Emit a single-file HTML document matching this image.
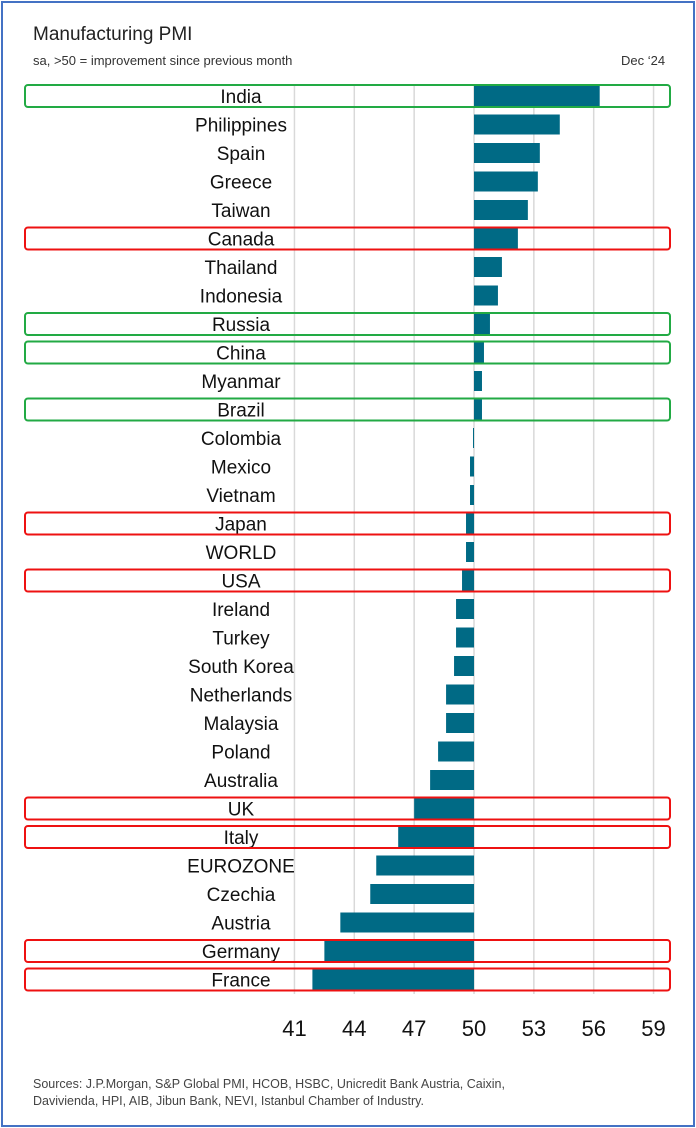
<!DOCTYPE html>
<html><head><meta charset="utf-8"><style>
body{margin:0;width:696px;height:1128px;background:#fff;overflow:hidden;font-family:"Liberation Sans",sans-serif}
#frame{position:absolute;left:1px;top:1px;width:690px;height:1122px;border:2px solid #4472C4}
.t{position:absolute;color:#333}
</style></head><body>
<div id="frame"></div>
<div class="t" style="left:33px;top:24px;font-size:19px;color:#222">Manufacturing PMI</div>
<div class="t" style="left:33px;top:53px;font-size:13px">sa, &gt;50 = improvement since previous month</div>
<div class="t" style="left:621px;top:53px;font-size:13px">Dec ‘24</div>
<svg id="c" width="696" height="1128" style="position:absolute;left:0;top:0"></svg>
<div class="t" style="left:33px;top:1076px;font-size:12.5px;line-height:17px;color:#444">Sources: J.P.Morgan, S&amp;P Global PMI, HCOB, HSBC, Unicredit Bank Austria, Caixin,<br>Davivienda, HPI, AIB, Jibun Bank, NEVI, Istanbul Chamber of Industry.</div>
<script>
const countries=["India","Philippines","Spain","Greece","Taiwan","Canada","Thailand","Indonesia","Russia","China","Myanmar","Brazil","Colombia","Mexico","Vietnam","Japan","WORLD","USA","Ireland","Turkey","South Korea","Netherlands","Malaysia","Poland","Australia","UK","Italy","EUROZONE","Czechia","Austria","Germany","France"];
const values=[56.3,54.3,53.3,53.2,52.7,52.2,51.4,51.2,50.8,50.5,50.4,50.4,49.95,49.8,49.8,49.6,49.6,49.4,49.1,49.1,49.0,48.6,48.6,48.2,47.8,47.0,46.2,45.1,44.8,43.3,42.5,41.9];
const highlights=["green","","","","","red","","","green","green","","green","","","","red","","red","","","","","","","","red","red","","","","red","red"];
const ticks=[41,44,47,50,53,56,59];
const svg=document.getElementById('c');const NS="http://www.w3.org/2000/svg";
const x=v=>474+(v-50)*19.95;
const y=i=>96+i*28.5;
function mk(t,a){const e=document.createElementNS(NS,t);for(const k in a)e.setAttribute(k,a[k]);svg.appendChild(e);return e;}
ticks.forEach(t=>{
 const g=mk('line',{x1:x(t),x2:x(t),y1:84,y2:994,stroke:'#d9d9d9','stroke-width':1.5});
 
 
 const l=mk('text',{x:x(t),y:1036,'text-anchor':'middle','font-size':22,fill:'#111','font-family':'Liberation Sans, sans-serif'});l.textContent=t;
 
 
});
countries.forEach((c,i)=>{
 const v=values[i],cy=y(i);
 const b=mk('rect',{x:Math.min(x(v),x(50)),y:cy-10,width:Math.max(Math.abs(x(v)-x(50)),1),height:20,fill:'#006a85'});
 
 
 const l=mk('text',{x:241,y:cy+7,'text-anchor':'middle','font-size':19,fill:'#111','font-family':'Liberation Sans, sans-serif'});l.textContent=c;
 
 
 if(highlights[i]){
  const r=mk('rect',{x:25,y:cy-11,width:645,height:22,rx:3,fill:'none',stroke:highlights[i]=='red'?'#ee1111':'#22aa44','stroke-width':2});
  
  
 }
});
</script>
</body></html>
